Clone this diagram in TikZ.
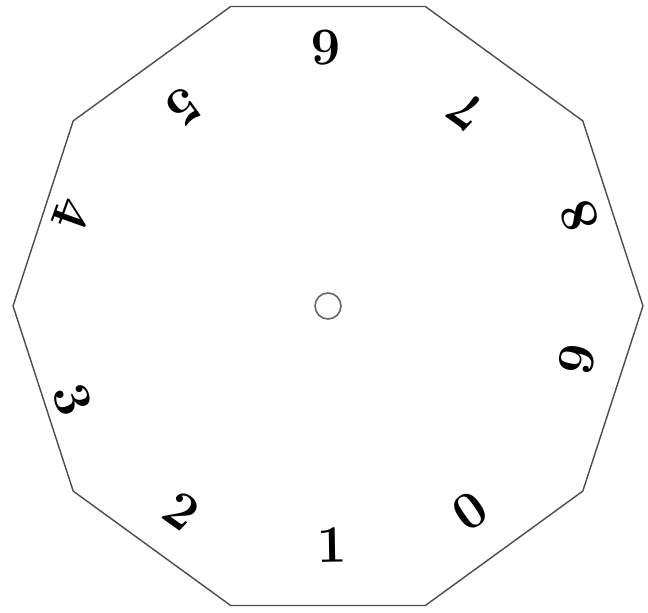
\documentclass[tikz,border=0pt]{standalone}
\usepackage{tikz}
\usetikzlibrary{shapes.geometric}

\begin{document}
\begin{tikzpicture}[x=0.02cm, y=0.02cm,
    digit/.style={font=\fontsize{30}{36}\selectfont\bfseries, inner sep=0pt}]
    \useasboundingbox (0,0) rectangle (648,612);

    % Decagon dial
    \node[draw=black!70, line width=0.8pt, regular polygon, regular polygon sides=10,
          minimum size=12.6cm, inner sep=0pt, outer sep=0pt] (dial) at (328,306) {};

    % Centre hole
    \node[draw=black!60, line width=0.9pt, circle, minimum size=0.52cm, inner sep=0pt] (hub) at (dial.center) {};

    % Digits (digit/angle/radius), tops turned toward the centre
    \foreach \d/\a/\r in {1/-89/239, 2/-125.6/252, 3/-159.8/272, 4/160.4/272, 5/126/246,
                          6/90.4/258, 7/54.7/239, 8/19.7/267, 9/-12.2/255, 0/-55.3/249}
        \path (dial.center) ++(\a:\r) node[digit, rotate=\a+90] (d\d) {\d};
\end{tikzpicture}
\end{document}
